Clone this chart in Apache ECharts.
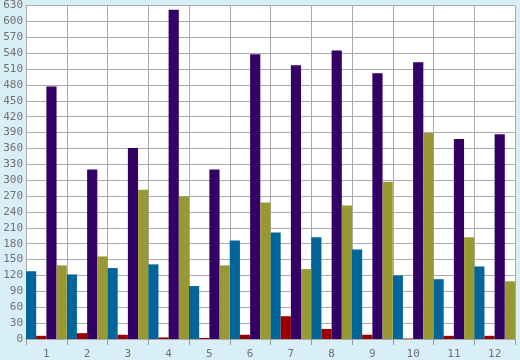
<!DOCTYPE html>
<html>
<head>
<meta charset="utf-8">
<script src="https://cdn.jsdelivr.net/npm/echarts@6/dist/echarts.min.js"></script>
<style>
html,body{margin:0;padding:0;background:#d9eff7;}
#c{width:520px;height:360px;}
</style>
</head>
<body>
<div id="c"></div>
<script>
var categories = ['1','2','3','4','5','6','7','8','9','10','11','12'];
var seriesBlue   = [128, 122, 134, 141, 100, 186, 201, 192, 169, 120, 113, 137];
var seriesRed    = [6, 11, 8, 3, 2, 8, 43, 19, 8, 1, 6, 6];
var seriesPurple = [477, 320, 361, 622, 320, 538, 517, 545, 502, 523, 378, 387];
var seriesOlive  = [139, 156, 282, 269, 139, 258, 132, 252, 297, 389, 192, 109];

var colors = ['#006699', '#990000', '#330066', '#999933'];
var allSeries = [seriesBlue, seriesRed, seriesPurple, seriesOlive];

var chart = echarts.init(document.getElementById('c'), null, {renderer: 'canvas'});
var labelFont = {color: '#707070', fontFamily: 'DejaVu Sans Mono', fontSize: 11};
chart.setOption({
  animation: false,
  backgroundColor: '#d9eff7',
  grid: {left: 26, right: 5, top: 5, bottom: 20, show: true, backgroundColor: '#ffffff', borderWidth: 0},
  xAxis: {
    type: 'category',
    data: categories,
    boundaryGap: true,
    axisLine: {show: true, lineStyle: {color: '#aaaaaa', width: 1}},
    axisTick: {show: true, length: 6, lineStyle: {color: '#999999'}},
    splitLine: {show: true, lineStyle: {color: '#aaaaaa', width: 1}},
    axisLabel: Object.assign({margin: 10, interval: 0}, labelFont)
  },
  yAxis: {
    type: 'value',
    min: 0, max: 630, interval: 30,
    axisLine: {show: true, lineStyle: {color: '#aaaaaa', width: 1}},
    axisTick: {show: false},
    splitLine: {show: true, lineStyle: {color: '#aaaaaa', width: 1}},
    axisLabel: Object.assign({margin: 3}, labelFont)
  },
  series: allSeries.map(function (d, i) {
    return {
      type: 'bar',
      data: d,
      barGap: '0%',
      barCategoryGap: '0%',
      itemStyle: {color: colors[i]}
    };
  })
});
</script>
</body>
</html>
